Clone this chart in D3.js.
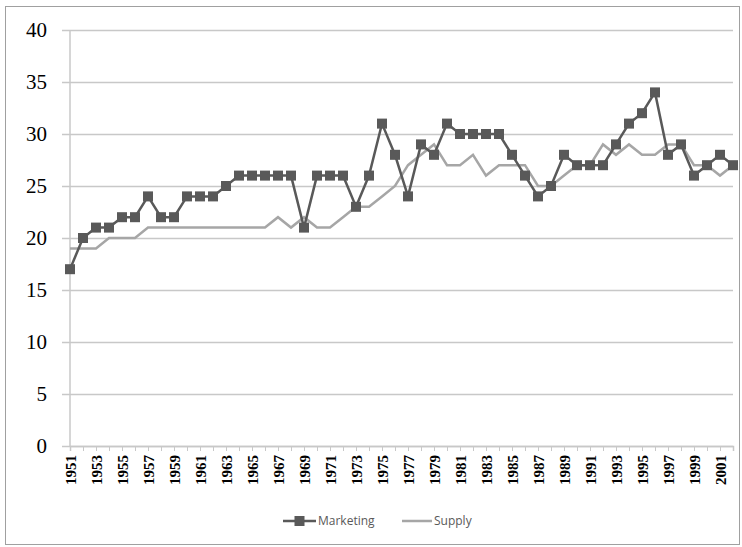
<!DOCTYPE html>
<html>
<head>
<meta charset="utf-8">
<script src="https://cdnjs.cloudflare.com/ajax/libs/d3/7.8.5/d3.min.js"></script>
<style>
  body { margin: 0; background: #fff; }
  svg { display: block; }
</style>
</head>
<body>
<svg id="chart"></svg>
<script>
const years = d3.range(1951, 2003);
const marketing = [17, 20, 21, 21, 22, 22, 24, 22, 22, 24, 24, 24, 25, 26, 26, 26, 26, 26, 21, 26,
  26, 26, 23, 26, 31, 28, 24, 29, 28, 31, 30, 30, 30, 30, 28, 26, 24, 25, 28, 27,
  27, 27, 29, 31, 32, 34, 28, 29, 26, 27, 28, 27];
const supply = [19, 19, 19, 20, 20, 20, 21, 21, 21, 21, 21, 21, 21, 21, 21, 21, 22, 21, 22, 21,
  21, 22, 23, 23, 24, 25, 27, 28, 29, 27, 27, 28, 26, 27, 27, 27, 25, 25, 26, 27,
  27, 29, 28, 29, 28, 28, 29, 29, 27, 27, 26, 27];
const yTicks = [0, 5, 10, 15, 20, 25, 30, 35, 40];

const dark = "#595959";
const light = "#a6a6a6";
const grid = "#c8c8c8";

const width = 742;
const height = 547;
const margin = { top: 30, right: 9, bottom: 101, left: 70 };

const svg = d3.select("#chart")
  .attr("width", width)
  .attr("height", height);

// outer frame
svg.append("rect")
  .attr("x", 5.5).attr("y", 6.5)
  .attr("width", 734).attr("height", 538)
  .attr("fill", "none")
  .attr("stroke", "#a0a0a0");

const g = svg.append("g")
  .attr("transform", `translate(${margin.left}, ${margin.top})`);

const w = width - margin.left - margin.right;
const h = height - margin.top - margin.bottom;

const x = d3.scalePoint().domain(years).range([0, w]);
const y = d3.scaleLinear().domain([0, 40]).range([h, 0]);

//y axis with gridlines
g.append("g")
  .attr("class", "yaxis")
  .call(d3.axisLeft(y).tickValues(yTicks).tickSize(-w).tickPadding(23))
  .call(s => s.select(".domain").remove())
  .call(s => s.selectAll(".tick line").attr("x1", -8).attr("x2", w).attr("stroke", grid).attr("stroke-width", 1.5))
  .call(s => s.selectAll(".tick text")
    .attr("fill", "#000")
    .style("font-family", "'Liberation Serif', 'Times New Roman', serif")
    .style("font-size", "21px"));

g.append("line")
  .attr("x1", 0).attr("x2", 0)
  .attr("y1", 0).attr("y2", h)
  .attr("stroke", grid).attr("stroke-width", 1.5);

//x axis
g.append("g")
  .attr("class", "xaxis")
  .attr("transform", `translate(0, ${h})`)
  .call(d3.axisBottom(x).tickSize(5).tickFormat(d => (d - 1951) % 2 === 0 ? d : ""))
  .call(s => s.select(".domain").attr("stroke", grid).attr("stroke-width", 1.5))
  .call(s => s.selectAll(".tick line").attr("stroke", grid))
  .call(s => s.selectAll(".tick text")
    .attr("transform", "rotate(-90)")
    .attr("x", -9).attr("y", 0).attr("dy", "0.35em")
    .attr("text-anchor", "end")
    .attr("fill", "#000")
    .style("font-family", "'Liberation Serif', 'Times New Roman', serif")
    .style("font-weight", "bold")
    .style("font-size", "15px"));

const line = d3.line()
  .x((d, i) => x(years[i]))
  .y(d => y(d));

g.append("path")
  .datum(supply)
  .attr("d", line)
  .attr("fill", "none")
  .attr("stroke", light)
  .attr("stroke-width", 2.5);

g.append("path")
  .datum(marketing)
  .attr("d", line)
  .attr("fill", "none")
  .attr("stroke", dark)
  .attr("stroke-width", 2.5);

g.selectAll(".mk")
  .data(marketing)
  .enter()
  .append("rect")
  .attr("class", "mk")
  .attr("x", (d, i) => x(years[i]) - 5)
  .attr("y", d => y(d) - 5)
  .attr("width", 10)
  .attr("height", 10)
  .attr("fill", dark);

//legend
const legend = svg.append("g")
  .attr("transform", "translate(283, 521)");

legend.append("line")
  .attr("x1", 0).attr("x2", 33)
  .attr("stroke", dark).attr("stroke-width", 2.5);
legend.append("rect")
  .attr("x", 11.5).attr("y", -5).attr("width", 10).attr("height", 10)
  .attr("fill", dark);
legend.append("text")
  .attr("x", 35).attr("dy", "0.35em")
  .attr("fill", dark)
  .style("font-family", "'Open Sans', sans-serif")
  .style("font-size", "12px")
  .text("Marketing");

legend.append("line")
  .attr("x1", 119).attr("x2", 149)
  .attr("stroke", light).attr("stroke-width", 2.5);
legend.append("text")
  .attr("x", 151).attr("dy", "0.35em")
  .attr("fill", dark)
  .style("font-family", "'Open Sans', sans-serif")
  .style("font-size", "12px")
  .text("Supply");
</script>
</body>
</html>
